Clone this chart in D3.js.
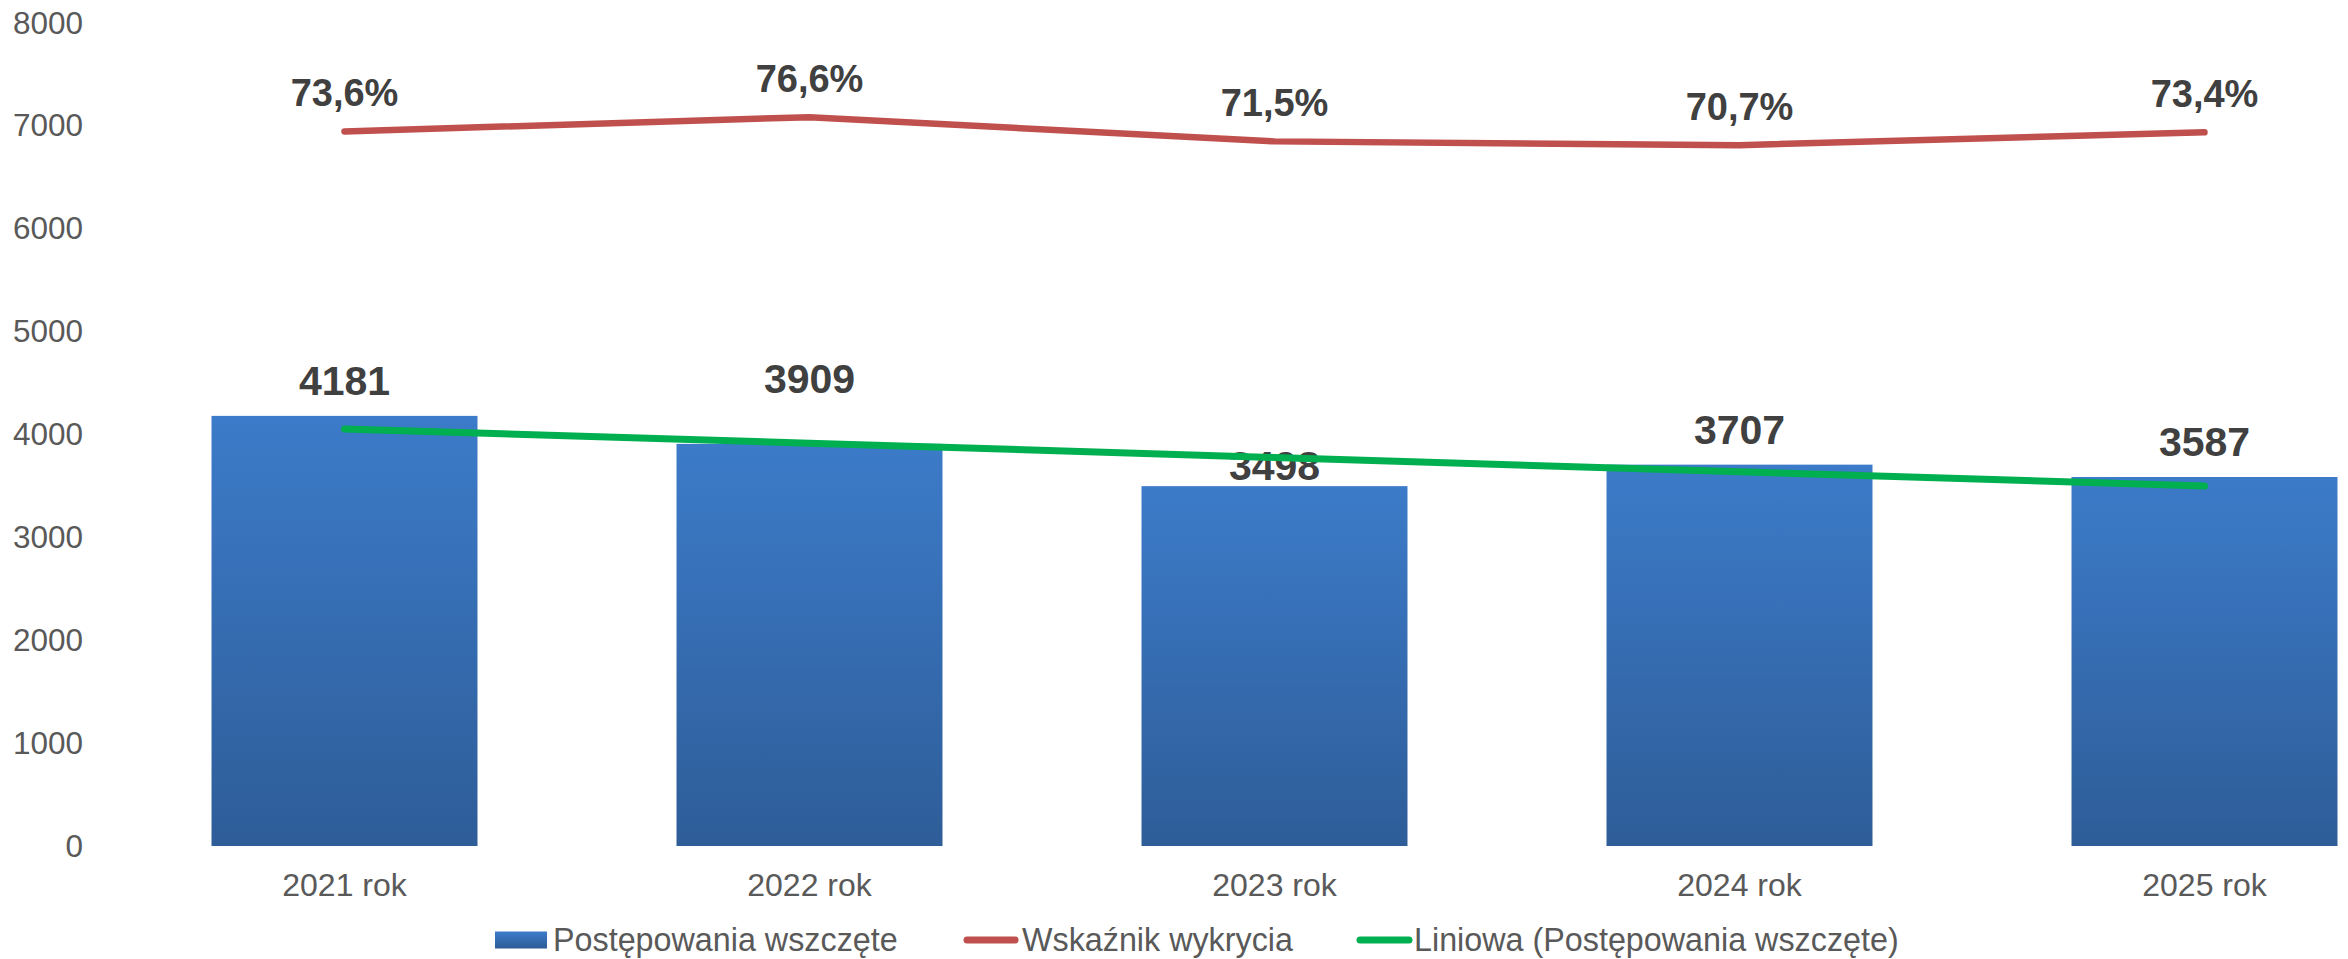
<!DOCTYPE html>
<html>
<head>
<meta charset="utf-8">
<script src="https://cdn.jsdelivr.net/npm/d3@7"></script>
<style>
  html, body { margin: 0; padding: 0; background: #ffffff; overflow: hidden; }
  svg { display: block; font-family: "Liberation Sans", Arial, sans-serif; }
</style>
</head>
<body>
<svg id="chart" width="2348" height="959"></svg>
<script>
// ---- data ----
const categories = ["2021 rok", "2022 rok", "2023 rok", "2024 rok", "2025 rok"];
const proceedings = [4181, 3909, 3498, 3707, 3587];          // Postępowania wszczęte
const detectionRate = [73.6, 76.6, 71.5, 70.7, 73.4];        // Wskaźnik wykrycia (%)
const yTicks = [0, 1000, 2000, 3000, 4000, 5000, 6000, 7000, 8000];
const seriesNames = ["Postępowania wszczęte", "Wskaźnik wykrycia", "Liniowa (Postępowania wszczęte)"];
// manual label nudges (layout, px) as placed in the original
const barLabelNudge = [0, -30, 15, 0, 0];

// ---- layout ----
const svg = d3.select("#chart");

const x = d3.scaleBand().domain(categories).range([112, 2437])
  .paddingInner(0.428).paddingOuter(0.214);
const y = d3.scaleLinear().domain([0, 8000]).range([846, 23]);
// hidden secondary axis for the percentage line
const yPct = d3.scaleLinear().domain([0, 100]).range([481, 6]);

const defs = svg.append("defs");
const grad = defs.append("linearGradient").attr("id", "barGrad")
  .attr("x1", 0).attr("y1", 0).attr("x2", 0).attr("y2", 1);
grad.append("stop").attr("offset", "0%").attr("stop-color", "#3C7BC9");
grad.append("stop").attr("offset", "100%").attr("stop-color", "#2E5D98");

// y axis
const yAxis = d3.axisLeft(y).tickValues(yTicks).tickSize(0).tickPadding(6)
  .tickFormat(d3.format("d"));
const gy = svg.append("g").attr("transform", "translate(89,0)").call(yAxis);
gy.select(".domain").remove();
gy.selectAll("text").attr("fill", "#595959").style("font-size", "31.5px")
  .style("font-family", "'Liberation Sans', Arial, sans-serif");

// x axis
const xAxis = d3.axisBottom(x).tickSize(0).tickPadding(27);
const gx = svg.append("g").attr("transform", "translate(0,846)").call(xAxis);
gx.select(".domain").remove();
gx.selectAll("text").attr("fill", "#595959").style("font-size", "32px")
  .style("font-family", "'Liberation Sans', Arial, sans-serif");

// bars
svg.append("g").selectAll("rect").data(proceedings).join("rect")
  .attr("x", (d, i) => x(categories[i]))
  .attr("width", x.bandwidth())
  .attr("y", d => y(d))
  .attr("height", d => y(0) - y(d))
  .attr("fill", "url(#barGrad)");

// bar labels
svg.append("g").selectAll("text").data(proceedings).join("text")
  .attr("x", (d, i) => x(categories[i]) + x.bandwidth() / 2)
  .attr("y", (d, i) => y(d) - 21 + barLabelNudge[i])
  .attr("text-anchor", "middle")
  .attr("fill", "#404040")
  .style("font-size", "41px").style("font-weight", "bold")
  .text(d => d);

// trend line (linear regression of bar series)
const xs = proceedings.map((d, i) => i + 1);
const mx = d3.mean(xs), my = d3.mean(proceedings);
const slope = d3.sum(xs, (xi, i) => (xi - mx) * (proceedings[i] - my)) /
              d3.sum(xs, xi => (xi - mx) * (xi - mx));
const icpt = my - slope * mx;
const trend = xs.map(xi => icpt + slope * xi);

const cx = (i) => x(categories[i]) + x.bandwidth() / 2;

svg.append("path").datum(trend)
  .attr("d", d3.line().x((d, i) => cx(i)).y(d => y(d)))
  .attr("fill", "none").attr("stroke", "#00B050").attr("stroke-width", 7)
  .attr("stroke-linecap", "round");

// percentage line
svg.append("path").datum(detectionRate)
  .attr("d", d3.line().x((d, i) => cx(i)).y(d => yPct(d)))
  .attr("fill", "none").attr("stroke", "#C0504D").attr("stroke-width", 6.5)
  .attr("stroke-linecap", "round").attr("stroke-linejoin", "round");

// percentage labels
svg.append("g").selectAll("text").data(detectionRate).join("text")
  .attr("x", (d, i) => cx(i))
  .attr("y", d => yPct(d) - 25)
  .attr("text-anchor", "middle")
  .attr("fill", "#404040")
  .style("font-size", "38px").style("font-weight", "bold")
  .text(d => d3.format(".1f")(d).replace(".", ",") + "%");

// legend
const lg = svg.append("g").attr("transform", "translate(0,940)");
const lgX = [495, 964, 1357];
lg.append("rect").attr("x", lgX[0]).attr("y", -8.5).attr("width", 52).attr("height", 17)
  .attr("fill", "url(#barGrad)");
lg.append("line").attr("x1", lgX[1] + 3).attr("x2", lgX[1] + 51).attr("y1", 0).attr("y2", 0)
  .attr("stroke", "#C0504D").attr("stroke-width", 7).attr("stroke-linecap", "round");
lg.append("line").attr("x1", lgX[2] + 3).attr("x2", lgX[2] + 52).attr("y1", 0).attr("y2", 0)
  .attr("stroke", "#00B050").attr("stroke-width", 7).attr("stroke-linecap", "round");
lg.selectAll("text.lt").data(seriesNames).join("text").attr("class", "lt")
  .attr("x", (d, i) => lgX[i] + [58, 58, 57][i])
  .attr("y", 11)
  .attr("fill", "#595959")
  .style("font-size", "32.3px")
  .text(d => d);
</script>
</body>
</html>
